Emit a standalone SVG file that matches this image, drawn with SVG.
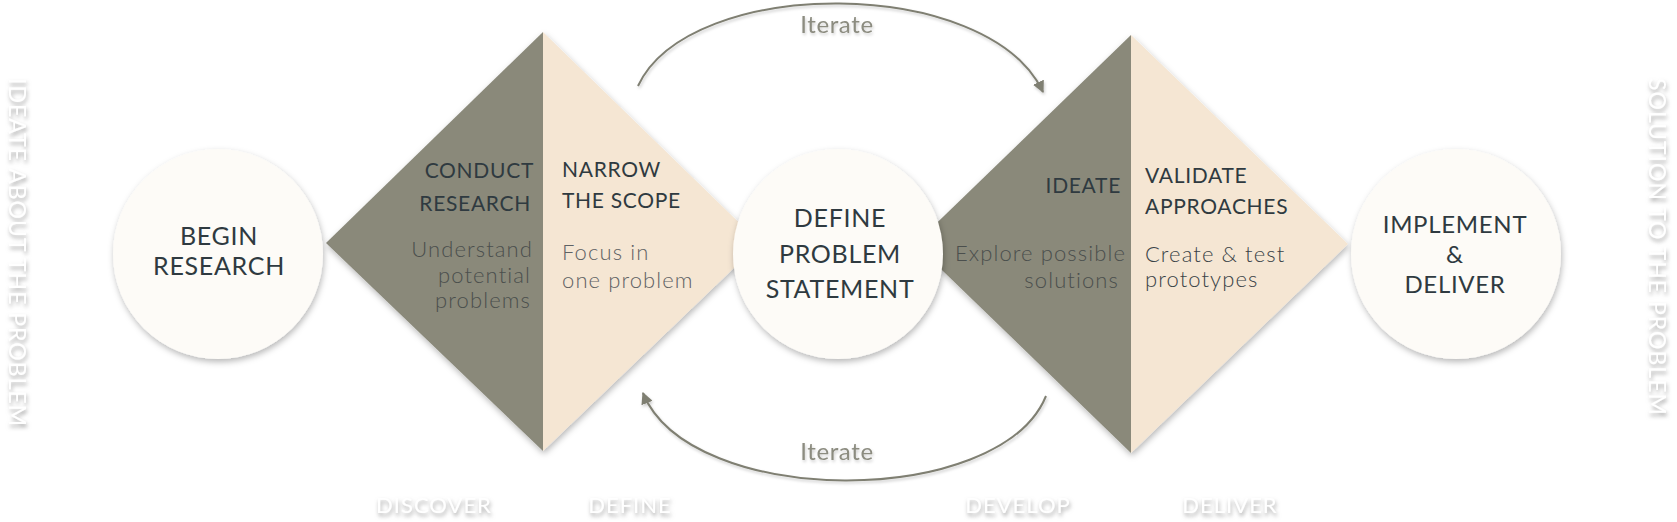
<svg xmlns="http://www.w3.org/2000/svg" width="1677" height="522" viewBox="0 0 1677 522">
<defs>
<style>
.dark{fill:#8a897a}
.light{fill:#f5e6d3}
.circ{fill:#fdfbf7}
.head{font-family:Lato,"Open Sans","Liberation Sans",sans-serif;fill:#2f3a40;letter-spacing:0.7px}
.body{font-family:Lato,"Open Sans","Liberation Sans",sans-serif;font-weight:300;letter-spacing:1.1px}
.emb{font-family:Lato,"Open Sans","Liberation Sans",sans-serif;fill:#ffffff;font-weight:400;letter-spacing:1px}
.iter{font-family:Lato,"Open Sans","Liberation Sans",sans-serif;fill:#8c8c80;font-size:24px;letter-spacing:0.6px}
.conn{fill:none;stroke:#7f7f72;stroke-width:2}
</style>
<filter id="sh" x="-20%" y="-20%" width="140%" height="140%">
<feDropShadow dx="1" dy="3" stdDeviation="3" flood-color="#000" flood-opacity="0.28"/>
</filter>
<filter id="embf" x="-20%" y="-50%" width="140%" height="200%">
<feDropShadow dx="1" dy="3" stdDeviation="2" flood-color="#8a8a8a" flood-opacity="0.75"/>
</filter>
<filter id="soft" x="-20%" y="-50%" width="140%" height="200%">
<feDropShadow dx="1" dy="2" stdDeviation="1.5" flood-color="#000" flood-opacity="0.2"/>
</filter>
<marker id="ah" viewBox="0 0 10 10" refX="9" refY="5" markerWidth="6" markerHeight="6" orient="auto" markerUnits="strokeWidth">
<path d="M0,0 L10,5 L0,10 z" fill="#7f7f72"/>
</marker>
</defs>
<rect width="1677" height="522" fill="#ffffff"/>

<g id="discover-define-diamond" filter="url(#sh)">
<polygon class="dark" points="326,243 543,32 543,451"/>
<polygon class="light" points="543,32 760,243 543,451"/>
</g>
<g id="develop-deliver-diamond" filter="url(#sh)">
<polygon class="dark" points="915,244 1131,35 1131,453"/>
<polygon class="light" points="1131,35 1348,244 1131,453"/>
</g>

<g id="connectors">
<path class="conn" d="M638,86 C690,-25 988,-25 1043,92" marker-end="url(#ah)" filter="url(#soft)"/>
<path class="conn" d="M1046,396 C1000,509 690,509 643,393" marker-end="url(#ah)" filter="url(#soft)"/>
<text class="iter" x="837" y="33" text-anchor="middle" filter="url(#soft)">Iterate</text>
<text class="iter" x="837" y="460" text-anchor="middle" filter="url(#soft)">Iterate</text>
</g>

<g id="begin-research">
<circle class="circ" cx="218" cy="254" r="105" filter="url(#sh)"/>
<text class="head" font-size="25" text-anchor="middle"><tspan x="219" y="245">BEGIN</tspan><tspan x="219" y="275">RESEARCH</tspan></text>
</g>

<g id="conduct-research">
<text class="head" font-size="21" text-anchor="end"><tspan x="534" y="178">CONDUCT</tspan><tspan x="531" y="211">RESEARCH</tspan></text>
<text class="body" font-size="22" fill="#4b4f4d" text-anchor="end"><tspan x="533" y="257">Understand</tspan><tspan x="531" y="283">potential</tspan><tspan x="531" y="308">problems</tspan></text>
</g>

<g id="narrow-scope">
<text class="head" font-size="21"><tspan x="562" y="177">NARROW</tspan><tspan x="562" y="208">THE SCOPE</tspan></text>
<text class="body" font-size="22" fill="#5f6264"><tspan x="562" y="260">Focus in</tspan><tspan x="562" y="288">one problem</tspan></text>
</g>

<g id="define-problem-statement">
<circle class="circ" cx="838" cy="254" r="105" filter="url(#sh)"/>
<text class="head" font-size="25" text-anchor="middle"><tspan x="840" y="227">DEFINE</tspan><tspan x="840" y="263">PROBLEM</tspan><tspan x="840" y="298">STATEMENT</tspan></text>
</g>

<g id="ideate">
<text class="head" font-size="21" text-anchor="end" x="1121" y="193">IDEATE</text>
<text class="body" font-size="22" fill="#4b4f4d" text-anchor="end"><tspan x="1126" y="261">Explore possible</tspan><tspan x="1119" y="288">solutions</tspan></text>
</g>

<g id="validate-approaches">
<text class="head" font-size="21"><tspan x="1145" y="183">VALIDATE</tspan><tspan x="1145" y="214">APPROACHES</tspan></text>
<text class="body" font-size="22" fill="#3a4347"><tspan x="1145" y="262">Create &amp; test</tspan><tspan x="1145" y="287">prototypes</tspan></text>
</g>

<g id="implement-deliver">
<circle class="circ" cx="1456" cy="254" r="105" filter="url(#sh)"/>
<text class="head" font-size="24" text-anchor="middle"><tspan x="1455" y="233">IMPLEMENT</tspan><tspan x="1455" y="263">&amp;</tspan><tspan x="1455" y="293">DELIVER</tspan></text>
</g>

<g id="side-labels" filter="url(#embf)">
<text class="emb" font-size="23" transform="translate(9,78) rotate(90)">IDEATE ABOUT THE PROBLEM</text>
<text class="emb" font-size="23" transform="translate(1649,78) rotate(90)">SOLUTION TO THE PROBLEM</text>
</g>

<g id="phase-labels" filter="url(#embf)">
<text class="emb" font-size="22" text-anchor="middle" x="434" y="513">DISCOVER</text>
<text class="emb" font-size="22" text-anchor="middle" x="630" y="513">DEFINE</text>
<text class="emb" font-size="22" text-anchor="middle" x="1018" y="513">DEVELOP</text>
<text class="emb" font-size="22" text-anchor="middle" x="1230" y="513">DELIVER</text>
</g>
</svg>
